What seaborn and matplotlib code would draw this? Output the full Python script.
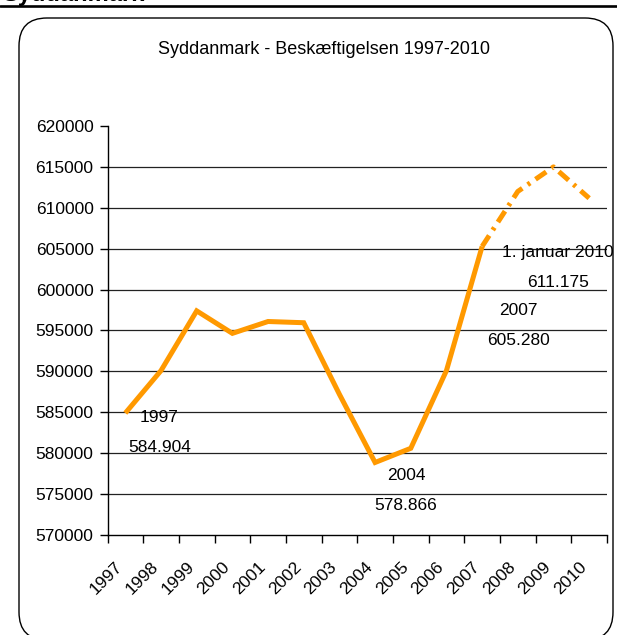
import matplotlib
matplotlib.use("Agg")
import matplotlib.pyplot as plt
import matplotlib.patches as patches
from matplotlib.transforms import IdentityTransform, ScaledTranslation
import seaborn as sns
import pandas as pd
import numpy as np

# data
years = ['1997', '1998', '1999', '2000', '2001', '2002', '2003',
         '2004', '2005', '2006', '2007', '2008', '2009', '2010']
employment = [584904, 590100, 597400, 594650, 596100, 595950, 587200,
              578866, 580600, 590100, 605280, 612000, 615000, 611175]
n_solid = 11  # 1997-2007 drawn solid, 2007-2010 dash-dot

callout_idx = [0, 7, 10, 13]
callout_top = ['1997', '2004', '2007', '1. januar 2010']
callout_bottom = ['584.904', '578.866', '605.280', '611.175']

yticks = list(range(570000, 620001, 5000))

df = pd.DataFrame({'pos': np.arange(len(years)), 'value': employment})

sns.set_style('white')
plt.rcParams['font.family'] = ['Liberation Sans', 'DejaVu Sans']
plt.rcParams['text.color'] = 'black'
plt.rcParams['xtick.color'] = 'black'
plt.rcParams['ytick.color'] = 'black'

W, H = 617, 635
fig = plt.figure(figsize=(W / 100, H / 100), dpi=100)

# header remnant + rule at the very top
fig.text(2 / W, 1 - 1.5 / H, 'Syddanmark', fontsize=17, fontweight='bold',
         ha='left', va='baseline')
fig.add_artist(plt.Line2D([0, 1], [1 - 6.2 / H, 1 - 6.2 / H], color='black', lw=1.9))

# rounded frame around the chart (pixel coordinates, origin bottom-left)
r = 28
x0, x1, y0, y1 = 19, 613, -5, H - 18
frame = patches.FancyBboxPatch((x0 + r, y0 + r), (x1 - x0) - 2 * r, (y1 - y0) - 2 * r,
                               boxstyle='round,pad=%d' % r, transform=IdentityTransform(),
                               facecolor='none', edgecolor='black', lw=1.0)
fig.patches.append(frame)

fig.text(324 / W, 1 - 50 / H, 'Syddanmark - Beskæftigelsen 1997-2010',
         fontsize=13, ha='center', va='center')

ax = fig.add_axes([107.5 / W, 1 - 535 / H, (607 - 107.5) / W, (535 - 126) / H])

orange = '#FF9900'
sns.lineplot(data=df.iloc[:n_solid], x='pos', y='value', ax=ax, color=orange,
             lw=3.6, solid_capstyle='butt', solid_joinstyle='miter')
sns.lineplot(data=df.iloc[n_solid - 1:], x='pos', y='value', ax=ax, color=orange,
             lw=3.6, linestyle=(0, (2.6, 1.3, 0.6, 1.3)), dash_capstyle='butt')

ax.set_xlim(-0.5, len(years) - 0.5)
ax.set_ylim(570000, 620000)
ax.set_yticks(yticks)
ax.set_yticklabels([str(v) for v in yticks])
for v in yticks[1:-1]:
    ax.axhline(v, color='#222222', lw=0.9, zorder=0)

ax.set_xticks(np.arange(len(years)))
ax.set_xticklabels(years, rotation=45, ha='right', rotation_mode='anchor', va='center')
ax.set_xticks(np.arange(len(years) + 1) - 0.5, minor=True)
ax.tick_params(axis='x', which='major', length=0, pad=21, labelsize=12.5)
ax.tick_params(axis='x', which='minor', length=6, width=1, direction='out')
ax.tick_params(axis='y', length=5.5, width=1, direction='out', pad=4.5, labelsize=12.5)
ax.xaxis.set_ticks_position('bottom')
ax.yaxis.set_ticks_position('left')
shift = ScaledTranslation(-5 / 100, 0, fig.dpi_scale_trans)
for lab in ax.get_xticklabels():
    lab.set_transform(lab.get_transform() + shift)

for s in ['top', 'right']:
    ax.spines[s].set_visible(False)
for s in ['left', 'bottom']:
    ax.spines[s].set_color('black')
    ax.spines[s].set_linewidth(1.0)
ax.set_xlabel('')
ax.set_ylabel('')
ax.set_facecolor('none')

# callout offsets in pixels from the data point (top line), second line 30 px lower
offsets = [(34, -4), (31, -13), (36, -64), (-31, -54)]
for i, top, bottom, (dx, dy) in zip(callout_idx, callout_top, callout_bottom, offsets):
    xy = (i, employment[i])
    ax.annotate(top, xy=xy, xytext=(dx, dy), textcoords='offset pixels',
                ha='center', va='center', fontsize=12.5, annotation_clip=False)
    ax.annotate(bottom, xy=xy, xytext=(dx, dy - 30.5), textcoords='offset pixels',
                ha='center', va='center', fontsize=12.5, annotation_clip=False)

fig.savefig('out.png', dpi=100)
